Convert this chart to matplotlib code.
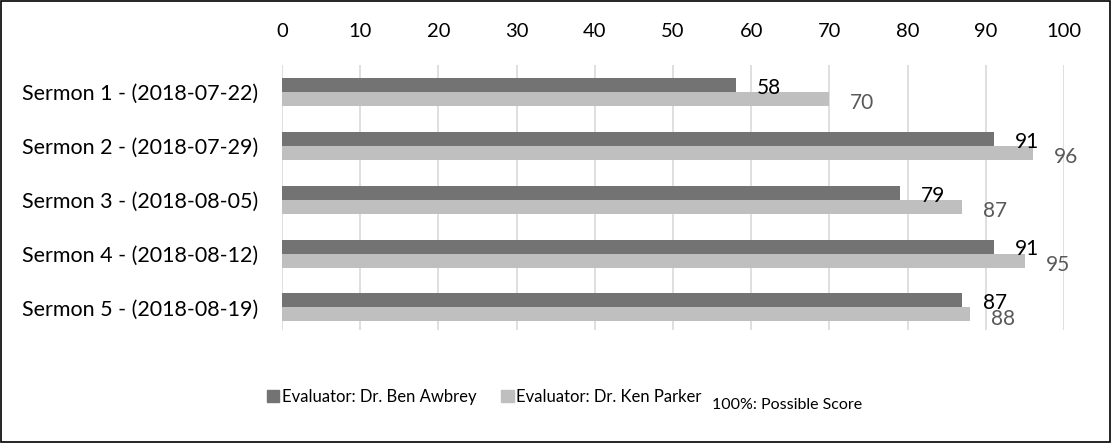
import matplotlib.pyplot as plt
from matplotlib.patches import Patch, Rectangle
import numpy as np

plt.rcParams['font.family'] = ['Lato', 'DejaVu Sans']

sermons = ['Sermon 1 - (2018-07-22)', 'Sermon 2 - (2018-07-29)', 'Sermon 3 - (2018-08-05)',
           'Sermon 4 - (2018-08-12)', 'Sermon 5 - (2018-08-19)']
awbrey = [58, 91, 79, 91, 87]
parker = [70, 96, 87, 95, 88]
ticks = [0, 10, 20, 30, 40, 50, 60, 70, 80, 90, 100]

dark = '#737373'
light = '#bfbfbf'

fig = plt.figure(figsize=(11.13, 4.43), dpi=100)
ax = fig.add_axes([0.2534, 0.255, 0.7026, 0.598])

y = np.arange(len(sermons))
h = 0.26
ax.barh(y - h / 2, awbrey, height=h, color=dark)
ax.barh(y + h / 2, parker, height=h, color=light)

# value labels just past the bar ends
for i in range(len(sermons)):
    ax.annotate(str(awbrey[i]), (awbrey[i], y[i] - h / 2), xytext=(15, -2),
                textcoords='offset points', va='center', ha='left',
                fontsize=15, color='black')
    ax.annotate(str(parker[i]), (parker[i], y[i] + h / 2), xytext=(15, -3),
                textcoords='offset points', va='center', ha='left',
                fontsize=15, color='#595959')

ax.set_xlim(0, 100)
ax.set_ylim(4.42, -0.5)
ax.set_xticks(ticks)
ax.set_yticks(y)
ax.set_yticklabels(sermons, fontsize=15.5)
ax.xaxis.tick_top()
ax.tick_params(axis='x', labelsize=14.5, length=0, pad=18)
ax.tick_params(axis='y', length=0, pad=17)
ax.grid(axis='x', color='#d9d9d9', linewidth=1.2)
ax.set_axisbelow(True)
for s in ax.spines.values():
    s.set_visible(False)

handles = [Patch(color=dark, label='Evaluator: Dr. Ben Awbrey'),
           Patch(color=light, label='Evaluator: Dr. Ken Parker')]
fig.legend(handles=handles, ncol=2, loc='center left', bbox_to_anchor=(0.226, 0.104),
           frameon=False, fontsize=12, handlelength=0.75, handleheight=0.75,
           handletextpad=0.15, columnspacing=1.5)
fig.text(0.64, 0.086, '100%: Possible Score', fontsize=11.5, va='center')

fig.patches.append(Rectangle((0.001, 0.003), 0.996, 0.994, transform=fig.transFigure,
                             fill=False, edgecolor='black', linewidth=1.2))

plt.savefig('out.png', dpi=100)
